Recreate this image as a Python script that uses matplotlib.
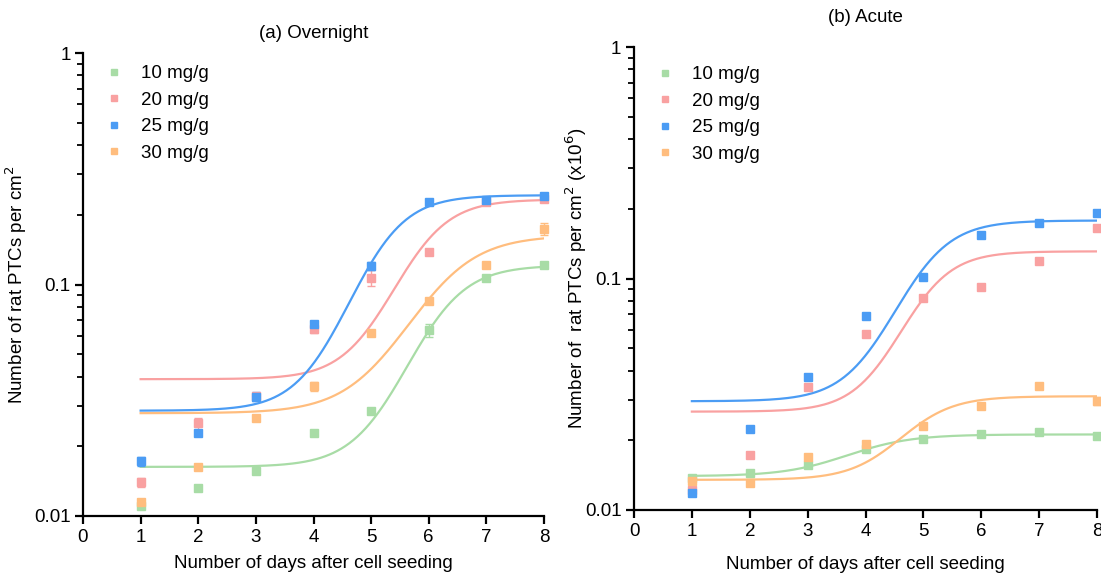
import numpy as np
import matplotlib
matplotlib.use("Agg")
import matplotlib.pyplot as plt

plt.rcParams['font.family'] = ['Liberation Sans', 'DejaVu Sans']

# datos
dias = [1, 2, 3, 4, 5, 6, 7, 8]
etiquetas = ['10 mg/g', '20 mg/g', '25 mg/g', '30 mg/g']
colores = ['#a8dca6', '#f9a1a1', '#4b9cf4', '#ffbd7e']

# (a) Overnight
a_10 = [0.0111, 0.0132, 0.0157, 0.0229, 0.0284, 0.0636, 0.107, 0.121]
a_20 = [0.0140, 0.0251, 0.0330, 0.0645, 0.107, 0.138, 0.228, 0.234]
a_25 = [0.0172, 0.0229, 0.0328, 0.0677, 0.120, 0.227, 0.232, 0.240]
a_30 = [0.0115, 0.0162, 0.0264, 0.0363, 0.0619, 0.085, 0.121, 0.174]
a_err10 = [0, 0, 0, 0, 0, 0.004, 0, 0]
a_err20 = [0.0006, 0.0015, 0, 0.003, 0.008, 0, 0, 0]
a_err25 = [0.0008, 0, 0.0015, 0, 0.005, 0, 0.006, 0]
a_err30 = [0.0004, 0, 0, 0.0018, 0, 0, 0, 0.01]

# (b) Acute
b_10 = [0.0138, 0.0144, 0.0156, 0.0183, 0.0202, 0.0214, 0.0218, 0.0208]
b_20 = [0.0122, 0.0172, 0.0340, 0.0575, 0.082, 0.092, 0.119, 0.165]
b_25 = [0.0118, 0.0224, 0.0374, 0.0690, 0.102, 0.154, 0.173, 0.192]
b_30 = [0.0134, 0.0131, 0.0170, 0.0192, 0.0230, 0.0281, 0.0342, 0.0296]
b_err30 = [0, 0, 0, 0, 0, 0, 0, 0.0012]

# parametros del ajuste sigmoide (bottom, top, V50, slope)
a_fit = [(0.0163, 0.121, 6.1, 0.47), (0.039, 0.233, 5.8, 0.45),
         (0.0285, 0.243, 5.1, 0.45), (0.0278, 0.163, 6.15, 0.56)]
b_fit = [(0.0140, 0.0212, 3.8, 0.55), (0.0266, 0.131, 4.95, 0.42),
         (0.0295, 0.178, 4.92, 0.45), (0.0135, 0.031, 4.8, 0.45)]

FS = 13.5


def sigmoide(x, bottom, top, v50, slope):
    return bottom + (top - bottom) / (1 + np.exp((v50 - x) / slope))


def panel(ax, series, errores, ajustes, titulo, ytxt, ty, leg_y, xpad):
    xs = np.linspace(1, 8, 200)
    for serie, err, fit, col, lab in zip(series, errores, ajustes, colores, etiquetas):
        ax.plot(xs, sigmoide(xs, *fit), color=col, lw=1.6, zorder=2)
        ax.errorbar(dias, serie, yerr=err, fmt='s', color=col, ms=5.8,
                    elinewidth=1, capsize=3, label=lab, clip_on=False, zorder=3)
    ax.set_yscale('log')
    ax.set_ylim(0.01, 1)
    ax.set_xlim(0, 8)
    ax.set_xticks(range(0, 9))
    ax.set_yticks([0.01, 0.1, 1])
    ax.set_yticklabels(['0.01', '0.1', '1'])
    for s in ['top', 'right']:
        ax.spines[s].set_visible(False)
    for s in ['left', 'bottom']:
        ax.spines[s].set_linewidth(1.6)
    ax.tick_params(axis='both', which='major', length=6, width=1.6, labelsize=FS, pad=3)
    ax.tick_params(axis='y', which='minor', length=4, width=1.3)
    ax.set_xlabel('Number of days after cell seeding', fontsize=FS, labelpad=xpad)
    ax.set_ylabel(ytxt, fontsize=FS)
    ax.text(0.5, ty, titulo, transform=ax.transAxes, ha='center', va='center', fontsize=FS)
    handles = [plt.Line2D([], [], ls='none', marker='s', ms=4.5, color=c) for c in colores]
    ax.legend(handles, etiquetas, loc='upper left', bbox_to_anchor=(0.03, leg_y),
              frameon=False, fontsize=FS, handlelength=1, handletextpad=0.93,
              borderaxespad=0, labelspacing=0.5)


fig = plt.figure(figsize=(11.01, 5.73), dpi=100)
ax1 = fig.add_axes([83 / 1101, 1 - 516 / 573, 461 / 1101, 463 / 573])
ax2 = fig.add_axes([634 / 1101, 1 - 510 / 573, 463 / 1101, 463 / 573])

panel(ax1, [a_10, a_20, a_25, a_30], [a_err10, a_err20, a_err25, a_err30], a_fit,
      '(a) Overnight', 'Number of rat PTCs per cm$^2$', 1.043, 0.99, 7)
panel(ax2, [b_10, b_20, b_25, b_30], [None, None, None, b_err30], b_fit,
      '(b) Acute', 'Number of  rat PTCs per cm$^2$ (x10$^6$)', 1.063, 0.975, 12)

ax1.yaxis.set_label_coords(-0.118, 0.5)
ax2.yaxis.set_label_coords(-0.097, 0.5)

fig.savefig('out.png', dpi=100)
plt.close()
